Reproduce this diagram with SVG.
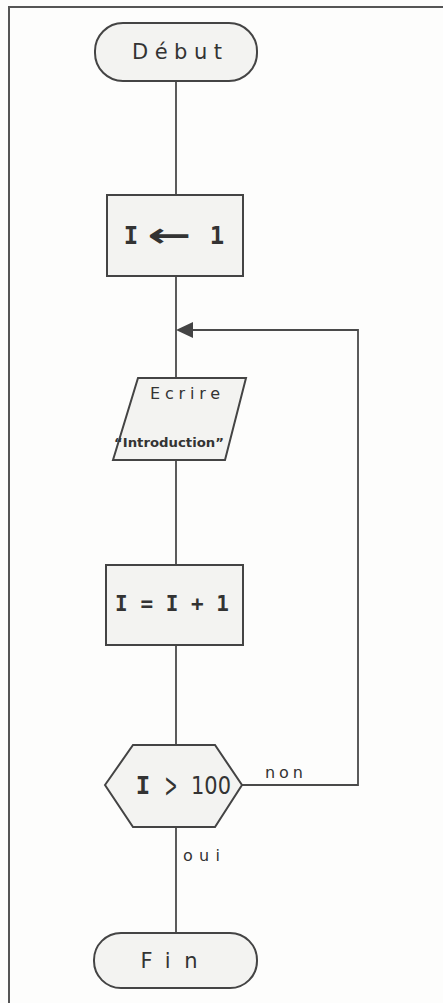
<svg xmlns="http://www.w3.org/2000/svg" width="443" height="1003" viewBox="0 0 443 1003">
<defs>
<style>
.shape{fill:#f3f3f1;stroke:#444;stroke-width:2}
.line{fill:none;stroke:#4a4a4a;stroke-width:1.8}
.t{font-family:"DejaVu Sans",sans-serif;fill:#333;text-anchor:middle;dominant-baseline:central}
.m{font-family:"DejaVu Sans Mono",monospace;fill:#333;text-anchor:middle;dominant-baseline:central;font-weight:bold}
.lbl{font-family:"DejaVu Sans",sans-serif;fill:#333;font-size:16px;letter-spacing:2px}
</style>
</defs>
<rect x="0" y="0" width="443" height="1003" fill="#fdfdfc"/>
<path d="M9,1003 V7 H443" fill="none" stroke="#555" stroke-width="2"/>
<g id="connectors">
<line class="line" x1="176" y1="81" x2="176" y2="195"/>
<line class="line" x1="176" y1="276" x2="176" y2="378"/>
<line class="line" x1="176" y1="460" x2="176" y2="565"/>
<line class="line" x1="176" y1="645" x2="176" y2="745"/>
<line class="line" x1="176" y1="827" x2="176" y2="933"/>
<path class="line" d="M242,785 H358 V330 H193"/>
<path d="M176,330 L193,322 L193,338 Z" fill="#444"/>
<text class="lbl" x="265" y="778" textLength="40">non</text>
<text class="lbl" x="183" y="861" textLength="39">oui</text>
</g>
<g id="debut">
<rect class="shape" x="95" y="23" width="162" height="58" rx="28"/>
<text class="t" x="177" y="52" font-size="21" textLength="90">Début</text>
</g>
<g id="init">
<rect class="shape" x="107" y="195" width="136" height="81"/>
<text class="m" x="131" y="236" font-size="24">I</text>
<text class="t" x="169" y="235" font-size="34" font-weight="bold" textLength="44" lengthAdjust="spacingAndGlyphs">←</text>
<text class="m" x="217" y="236" font-size="24">1</text>
</g>
<g id="ecrire">
<polygon class="shape" points="138,378 246,378 225,460 113,460"/>
<text class="t" x="185" y="393" font-size="16" textLength="70">Ecrire</text>
<text class="t" x="169" y="442" font-size="13" font-weight="bold" textLength="110" lengthAdjust="spacingAndGlyphs">“Introduction”</text>
</g>
<g id="incr">
<rect class="shape" x="106" y="565" width="137" height="80"/>
<text class="m" x="172" y="604" font-size="21">I = I + 1</text>
</g>
<g id="test">
<polygon class="shape" points="105,785 133,745 215,745 242,785 215,827 133,827"/>
<text class="m" x="143" y="786" font-size="24">I</text>
<text class="t" x="171" y="785" font-size="34" textLength="13" lengthAdjust="spacingAndGlyphs">&gt;</text>
<text class="t" x="211" y="786" font-size="24" textLength="40" lengthAdjust="spacingAndGlyphs">100</text>
</g>
<g id="fin">
<rect class="shape" x="94" y="933" width="163" height="55" rx="27"/>
<text class="t" x="169" y="961" font-size="21" textLength="57">Fin</text>
</g>
</svg>
